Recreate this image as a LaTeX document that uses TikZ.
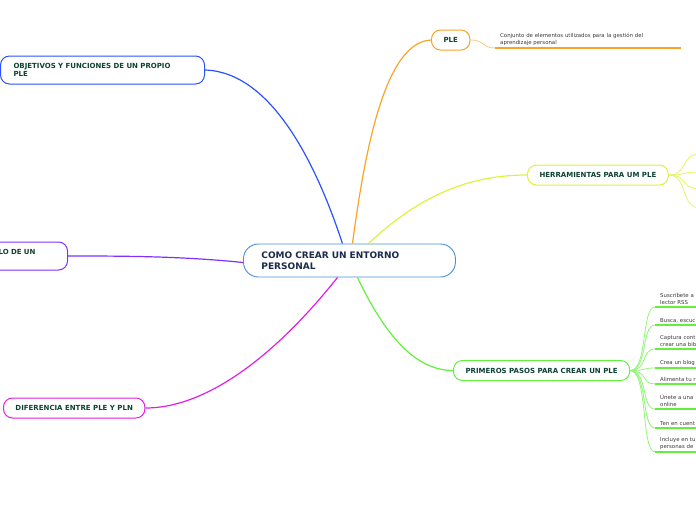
\documentclass[tikz,border=0pt]{standalone}
\usepackage{fontspec}
\setmainfont{DejaVu Sans}
\usetikzlibrary{positioning}

\definecolor{centreline}{HTML}{4A8FD6}
\definecolor{centretext}{HTML}{1C2B4A}
\definecolor{topictext}{HTML}{0E4231}
\definecolor{leaftext}{HTML}{3A3A3A}
\definecolor{objblue}{HTML}{2A52FF}
\definecolor{modpurple}{HTML}{7E30FF}
\definecolor{difmagenta}{HTML}{E21EE2}
\definecolor{pleorange}{HTML}{F7A428}
\definecolor{heryellow}{HTML}{DDF23E}
\definecolor{pasgreen}{HTML}{62F03C}

\begin{document}
\begin{tikzpicture}[
    x=1pt, y=-1pt,
    centre/.style={rectangle, draw=centreline, line width=0.9pt, rounded corners=15pt, fill=white,
        font=\bfseries\fontsize{9}{11.5}\selectfont, text=centretext, align=left,
        text width=176pt, inner xsep=18pt, minimum height=33pt},
    topic/.style={rectangle, draw, line width=1pt, rounded corners=9pt, fill=white,
        font=\bfseries\fontsize{7}{8.5}\selectfont, text=topictext, align=left,
        inner xsep=12pt, minimum height=20pt},
    leaf/.style={inner xsep=5pt, inner ysep=2pt, anchor=south west, align=left,
        font=\fontsize{5.4}{7}\selectfont, text=leaftext},
    branch/.style={line width=1.2pt},
    twig/.style={line width=0.8pt},
    underline/.style={line width=1.8pt},
]
\useasboundingbox (0,0) rectangle (696,520);

% Central topic
\node[centre, anchor=west] (centre) at (243,260.5) {COMO CREAR UN ENTORNO\\PERSONAL};

% Main topics, left side
\node[topic, draw=objblue, anchor=west, text width=178pt, minimum height=28pt, inner xsep=13pt] (obj) at (0,70)
    {OBJETIVOS Y FUNCIONES DE UN PROPIO\\PLE};
\node[topic, draw=modpurple, anchor=east, text width=80pt, align=right, minimum height=28pt, inner xsep=32pt] (modelo) at (68,256)
    {LO DE UN\\\mbox{}};
\node[topic, draw=difmagenta, anchor=west] (dif) at (3,408) {DIFERENCIA ENTRE PLE Y PLN};

% Main topics, right side
\node[topic, draw=pleorange, anchor=west] (ple) at (431,40) {PLE};
\node[topic, draw=heryellow, anchor=west] (herr) at (527,175) {HERRAMIENTAS PARA UM PLE};
\node[topic, draw=pasgreen, anchor=west] (pasos) at (453,370.5) {PRIMEROS PASOS PARA CREAR UN PLE};

% PLE detail
\node[leaf, text width=176pt] (pledef) at (495,48)
    {Conjunto de elementos utilizados para la gestión del\\aprendizaje personal};
\draw[pleorange!60, twig] (ple.east) .. controls (485,40) and (482,48) .. (pledef.south west);
\draw[pleorange, underline] (pledef.south west) -- (pledef.south east);

% Herramientas children (off the page)
\coordinate (h1) at (700,154);
\coordinate (h2) at (700,172);
\coordinate (h3) at (700,189);
\coordinate (h4) at (700,208);
\foreach \h in {h1,h2,h3,h4}
    \draw[heryellow!80, twig] (herr.east) .. controls (688,175) and (680,0 |- \h) .. (\h);

% Primeros pasos children
\node[leaf, text width=50pt] (p1) at (655,307) {Suscríbete a\\lector RSS};
\node[leaf, text width=50pt] (p2) at (655,325) {Busca, escuc};
\node[leaf, text width=50pt] (p3) at (655,349) {Captura cont\\crear una bib};
\node[leaf, text width=50pt] (p4) at (655,368) {Crea un blog};
\node[leaf, text width=50pt] (p5) at (655,384) {Alimenta tu r};
\node[leaf, text width=50pt] (p6) at (655,409) {Únete a una\\online};
\node[leaf, text width=50pt] (p7) at (655,428) {Ten en cuent};
\node[leaf, text width=50pt] (p8) at (655,452) {Incluye en tu\\personas de};
\foreach \p in {p1,p2,p3,p4,p5,p6,p7,p8} {
    \draw[pasgreen!70, twig] (pasos.east) .. controls (648,370.5) and (641,0 |- \p.south west) .. (\p.south west);
    \draw[pasgreen, underline] (\p.south west) -- (\p.south east);
}

% Branches from the centre
\draw[objblue, branch] ([xshift=-7pt]centre.north) .. controls (315,160) and (270,72) .. (obj.east);
\draw[pleorange, branch] ([xshift=3pt]centre.north) .. controls (365,150) and (385,42) .. (ple.west);
\draw[heryellow, branch] ([xshift=19pt]centre.north) .. controls (420,195) and (470,175) .. (herr.west);
\draw[modpurple, branch] ([yshift=-2pt]centre.west) .. controls (180,256) and (120,256) .. (modelo.east);
\draw[difmagenta, branch] ([xshift=-12pt]centre.south) .. controls (280,350) and (210,408) .. (dif.east);
\draw[pasgreen, branch] ([xshift=8pt]centre.south) .. controls (385,335) and (415,370.5) .. (pasos.west);

\end{tikzpicture}
\end{document}
